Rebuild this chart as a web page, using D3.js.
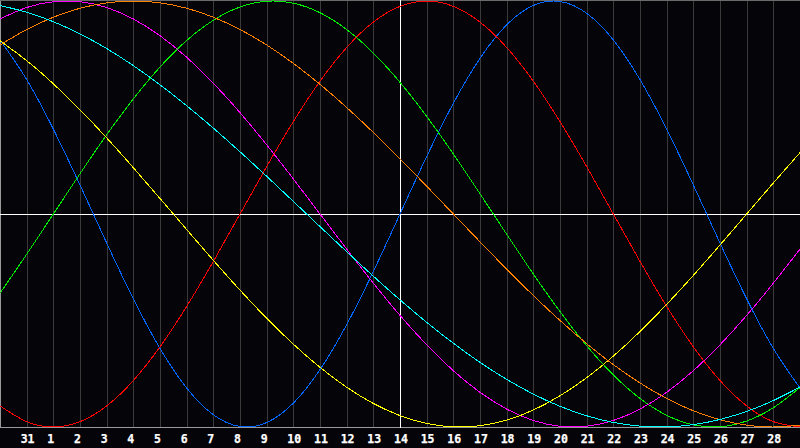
<!DOCTYPE html>
<html>
<head>
<meta charset="utf-8">
<script src="https://cdn.jsdelivr.net/npm/d3@7"></script>
<style>
html,body{margin:0;padding:0;background:#050408;overflow:hidden;}
svg{display:block;}
</style>
</head>
<body>
<svg id="chart" width="800" height="448"></svg>
<script>
// Day labels under the 29 inner grid lines (day index 1..29)
const dayLabels = ["31","1","2","3","4","5","6","7","8","9","10","11","12","13","14","15","16","17","18","19","20","21","22","23","24","25","26","27","28"];
const todayIndex = 15;

// Cycle values (-1..1) at day index 0..30
const physical = [0.8170,0.6311,0.3984,0.1362,-0.1362,-0.3984,-0.6311,-0.8170,-0.9423,-0.9977,-0.9791,-0.8879,-0.7308,-0.5196,-0.2698,0,0.2698,0.5196,0.7308,0.8879,0.9791,0.9977,0.9423,0.8170,0.6311,0.3984,0.1362,-0.1362,-0.3984,-0.6311,-0.8170];
const emotional = [-0.9010,-0.9749,-1,-0.9749,-0.9010,-0.7818,-0.6235,-0.4339,-0.2225,0,0.2225,0.4339,0.6235,0.7818,0.9010,0.9749,1,0.9749,0.9010,0.7818,0.6235,0.4339,0.2225,0,-0.2225,-0.4339,-0.6235,-0.7818,-0.9010,-0.9749,-1];
const intellectual = [-0.3717,-0.1893,0,0.1893,0.3717,0.5406,0.6901,0.8146,0.9096,0.9718,0.9989,0.9898,0.9450,0.8660,0.7557,0.6182,0.4582,0.2817,0.0951,-0.0951,-0.2817,-0.4582,-0.6182,-0.7557,-0.8660,-0.9450,-0.9898,-0.9989,-0.9718,-0.9096,-0.8146];
const intuitive = [0.9157,0.9694,0.9966,0.9966,0.9694,0.9157,0.8372,0.7358,0.6142,0.4760,0.3247,0.1646,0,-0.1646,-0.3247,-0.4760,-0.6142,-0.7358,-0.8372,-0.9157,-0.9694,-0.9966,-0.9966,-0.9694,-0.9157,-0.8372,-0.7358,-0.6142,-0.4760,-0.3247,-0.1646];
const aesthetic = [0.8133,0.7199,0.6112,0.4894,0.3573,0.2174,0.0730,-0.0730,-0.2174,-0.3573,-0.4894,-0.6112,-0.7199,-0.8133,-0.8893,-0.9464,-0.9834,-0.9993,-0.9940,-0.9675,-0.9203,-0.8535,-0.7686,-0.6673,-0.5517,-0.4244,-0.2881,-0.1456,0,0.1456,0.2881];
const awareness = [0.7934,0.8660,0.9239,0.9659,0.9914,1,0.9914,0.9659,0.9239,0.8660,0.7934,0.7071,0.6088,0.5,0.3827,0.2588,0.1305,0,-0.1305,-0.2588,-0.3827,-0.5,-0.6088,-0.7071,-0.7934,-0.8660,-0.9239,-0.9659,-0.9914,-1,-0.9914];
const spiritual = [0.9786,0.9473,0.9028,0.8456,0.7766,0.6966,0.6068,0.5085,0.4031,0.2920,0.1769,0.0592,-0.0592,-0.1769,-0.2920,-0.4031,-0.5085,-0.6068,-0.6966,-0.7766,-0.8456,-0.9028,-0.9473,-0.9786,-0.9960,-0.9996,-0.9890,-0.9646,-0.9267,-0.8757,-0.8125];

const seriesNames = ["physical","emotional","intellectual","intuitive","aesthetic","awareness","spiritual"];
const seriesColors = ["#0066ff","#ff0000","#00ee00","#ff00ff","#ffff00","#ff8000","#00ffff"];
const seriesData = [physical, emotional, intellectual, intuitive, aesthetic, awareness, spiritual];

const svg = d3.select("#chart");
const W = 800, plotBottom = 427.5, plotTop = 0.5;

const x = d3.scaleLinear().domain([0, 30]).range([0, W]);
const y = d3.scaleLinear().domain([-1, 1]).range([427, 1]);

// background
svg.append("rect").attr("width", 800).attr("height", 448).attr("fill", "#050408");

// vertical grid lines
const gridIdx = d3.range(1, 30);
svg.append("g").selectAll("line").data(gridIdx).join("line")
  .attr("x1", d => Math.round(x(d)) + 0.5).attr("x2", d => Math.round(x(d)) + 0.5)
  .attr("y1", 0).attr("y2", plotBottom)
  .attr("stroke", "#3a3a3a").attr("stroke-width", 1)
  .attr("shape-rendering", "crispEdges");

// frame (left, top, bottom)
svg.append("line").attr("x1", 0.5).attr("x2", 0.5).attr("y1", 0).attr("y2", plotBottom)
  .attr("stroke", "#9a9a9a").attr("shape-rendering", "crispEdges");
svg.append("line").attr("x1", 0).attr("x2", W).attr("y1", plotTop).attr("y2", plotTop)
  .attr("stroke", "#6a6a6a").attr("shape-rendering", "crispEdges");
svg.append("line").attr("x1", 0).attr("x2", W).attr("y1", plotBottom).attr("y2", plotBottom)
  .attr("stroke", "#9a9a9a").attr("shape-rendering", "crispEdges");

// zero line and today line
svg.append("line").attr("x1", 0).attr("x2", W)
  .attr("y1", Math.round(y(0)) + 0.5).attr("y2", Math.round(y(0)) + 0.5)
  .attr("stroke", "#ffffff").attr("shape-rendering", "crispEdges");
svg.append("line").attr("x1", Math.round(x(todayIndex)) + 0.5).attr("x2", Math.round(x(todayIndex)) + 0.5)
  .attr("y1", 0).attr("y2", plotBottom)
  .attr("stroke", "#ffffff").attr("shape-rendering", "crispEdges");

// curves
const line = d3.line()
  .x((d, i) => x(i))
  .y(d => y(d))
  .curve(d3.curveNatural);

svg.append("g").selectAll("path").data(seriesData).join("path")
  .attr("d", d => line(d))
  .attr("fill", "none")
  .attr("stroke", (d, i) => seriesColors[i])
  .attr("stroke-width", 1)
  .attr("shape-rendering", "crispEdges")
  .attr("class", (d, i) => seriesNames[i]);

// day labels
svg.append("g").selectAll("text").data(dayLabels).join("text")
  .attr("x", (d, i) => x(i + 1) - 6)
  .attr("y", 443)
  .attr("text-anchor", "start")
  .attr("fill", "#ffffff")
  .attr("font-family", "'DejaVu Sans Mono', monospace")
  .attr("font-weight", "bold")
  .attr("font-size", "11.5px")
  .attr("stroke", "#ffffff")
  .attr("stroke-width", 0.25)
  .text(d => d);
</script>
</body>
</html>
